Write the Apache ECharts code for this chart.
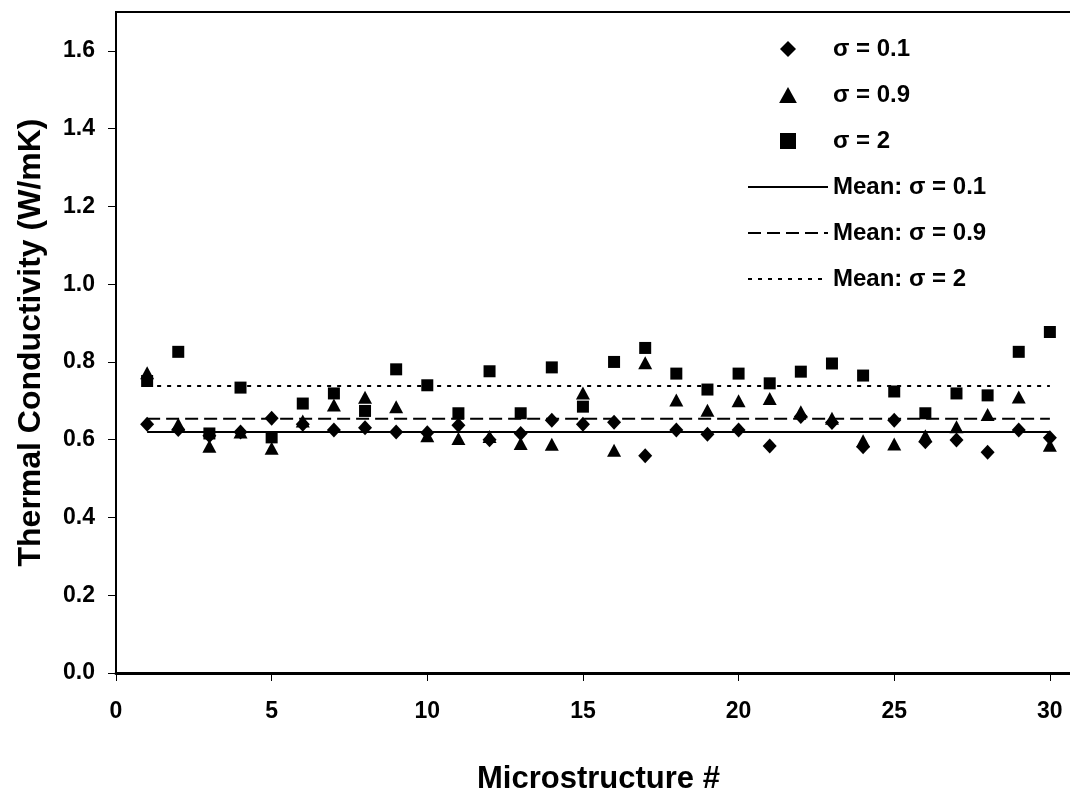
<!DOCTYPE html>
<html>
<head>
<meta charset="utf-8">
<script src="https://cdn.jsdelivr.net/npm/echarts@6/dist/echarts.min.js"></script>
<style>
  html, body { margin: 0; padding: 0; background: #fff; }
  #chart { width: 1070px; height: 793px; }
</style>
</head>
<body>
<div id="chart"></div>
<script>
/* -------------------------------------------------------------------------- */
/*                     Thermal conductivity per microstructure                */
/* -------------------------------------------------------------------------- */

const microstructures = [
  1, 2, 3, 4, 5, 6, 7, 8, 9, 10,
  11, 12, 13, 14, 15, 16, 17, 18, 19, 20,
  21, 22, 23, 24, 25, 26, 27, 28, 29, 30
];
const sigma01 = [
  0.640, 0.626, 0.610, 0.620, 0.655, 0.640, 0.625, 0.631, 0.620, 0.618,
  0.637, 0.600, 0.616, 0.650, 0.640, 0.645, 0.559, 0.625, 0.614, 0.625,
  0.584, 0.660, 0.644, 0.582, 0.650, 0.595, 0.599, 0.568, 0.625, 0.605
];
const sigma09 = [
  0.772, 0.640, 0.583, 0.620, 0.578, 0.648, 0.689, 0.709, 0.685, 0.610,
  0.603, 0.608, 0.590, 0.588, 0.720, 0.573, 0.798, 0.702, 0.676, 0.700,
  0.706, 0.672, 0.655, 0.597, 0.589, 0.610, 0.633, 0.665, 0.710, 0.586
];
const sigma2 = [
  0.751, 0.826, 0.616, 0.734, 0.606, 0.693, 0.719, 0.674, 0.781, 0.740,
  0.668, 0.776, 0.668, 0.786, 0.685, 0.800, 0.836, 0.770, 0.729, 0.770,
  0.745, 0.775, 0.796, 0.765, 0.724, 0.668, 0.719, 0.714, 0.826, 0.877
];
const meanSigma01 = 0.620;
const meanSigma09 = 0.654;
const meanSigma2 = 0.738;

const xTicks = [0, 5, 10, 15, 20, 25, 30];
const yTicks = [0, 0.2, 0.4, 0.6, 0.8, 1.0, 1.2, 1.4, 1.6];

const FONT = 'Liberation Sans, Arial, sans-serif';

// legend markers as paths so they keep their aspect inside the wide legend box
const ICON_DIAMOND = 'path://M0,-1L1,0L0,1L-1,0Z';
const ICON_TRIANGLE = 'path://M0,0L1,1.8L-1,1.8Z';
const ICON_SQUARE = 'path://M0,0L1,0L1,1L0,1Z';

const pairs = values => microstructures.map((x, i) => [x, values[i]]);
const flat = value => microstructures.map(x => [x, value]);

const chart = echarts.init(document.getElementById('chart'));

const scatter = (name, values, symbol, size) => ({
  name,
  type: 'scatter',
  data: pairs(values),
  symbol,
  symbolSize: size,
  itemStyle: { color: '#000', opacity: 1 },
  z: 3
});

const meanLine = (name, value, type) => ({
  name,
  type: 'line',
  data: flat(value),
  symbol: 'none',
  itemStyle: { color: '#000' },
  lineStyle: { color: '#000', width: 2, type },
  z: 2
});

const markerEntry = (name, icon) => ({ name, icon });
// line entries in the legend: hide the marker ECharts puts in the middle
const lineEntry = name => ({ name, itemStyle: { opacity: 0 } });

chart.setOption({
  animation: false,
  backgroundColor: '#fff',
  textStyle: { fontFamily: FONT },
  grid: {
    left: 116,
    top: 12,
    bottom: 120,
    right: -11,
    outerBoundsMode: 'none',
    containLabel: false,
    show: true,
    borderColor: '#000',
    borderWidth: 2
  },
  legend: {
    orient: 'vertical',
    left: 747,
    top: 37,
    padding: 0,
    itemWidth: 80,
    itemHeight: 16,
    itemGap: 22,
    symbolKeepAspect: true,
    textStyle: { fontFamily: FONT, fontWeight: 'bold', fontSize: 24, color: '#000' },
    data: [
      markerEntry('σ = 0.1', ICON_DIAMOND),
      markerEntry('σ = 0.9', ICON_TRIANGLE),
      markerEntry('σ = 2', ICON_SQUARE),
      lineEntry('Mean: σ = 0.1'),
      lineEntry('Mean: σ = 0.9'),
      lineEntry('Mean: σ = 2')
    ]
  },
  xAxis: {
    type: 'value',
    min: 0,
    max: 31,
    interval: 5,
    name: 'Microstructure #',
    nameLocation: 'middle',
    nameGap: 91,
    nameTextStyle: { fontFamily: FONT, fontWeight: 'bold', fontSize: 31, color: '#000' },
    splitLine: { show: false },
    axisLine: { onZero: false, lineStyle: { color: '#000', width: 3 } },
    axisTick: { customValues: xTicks, length: 8, lineStyle: { color: '#000', width: 1 } },
    axisLabel: {
      customValues: xTicks,
      margin: 27,
      fontFamily: FONT,
      fontWeight: 'bold',
      fontSize: 23,
      color: '#000'
    }
  },
  yAxis: {
    type: 'value',
    min: 0,
    max: 1.7,
    interval: 0.2,
    name: 'Thermal Conductivity (W/mK)',
    nameLocation: 'middle',
    nameGap: 69,
    nameRotate: 90,
    nameTextStyle: { fontFamily: FONT, fontWeight: 'bold', fontSize: 32, color: '#000' },
    splitLine: { show: false },
    axisLine: { show: true, lineStyle: { color: '#000', width: 2 } },
    axisTick: { customValues: yTicks, length: 8, lineStyle: { color: '#000', width: 1 } },
    axisLabel: {
      customValues: yTicks,
      margin: 21,
      formatter: v => v.toFixed(1),
      fontFamily: FONT,
      fontWeight: 'bold',
      fontSize: 23,
      color: '#000'
    }
  },
  series: [
    scatter('σ = 0.1', sigma01, 'diamond', [14, 15]),
    scatter('σ = 0.9', sigma09, 'triangle', [14, 13]),
    scatter('σ = 2', sigma2, 'rect', [12, 12]),
    meanLine('Mean: σ = 0.1', meanSigma01, 'solid'),
    meanLine('Mean: σ = 0.9', meanSigma09, [13, 6]),
    meanLine('Mean: σ = 2', meanSigma2, [4, 6])
  ]
});
</script>
</body>
</html>
